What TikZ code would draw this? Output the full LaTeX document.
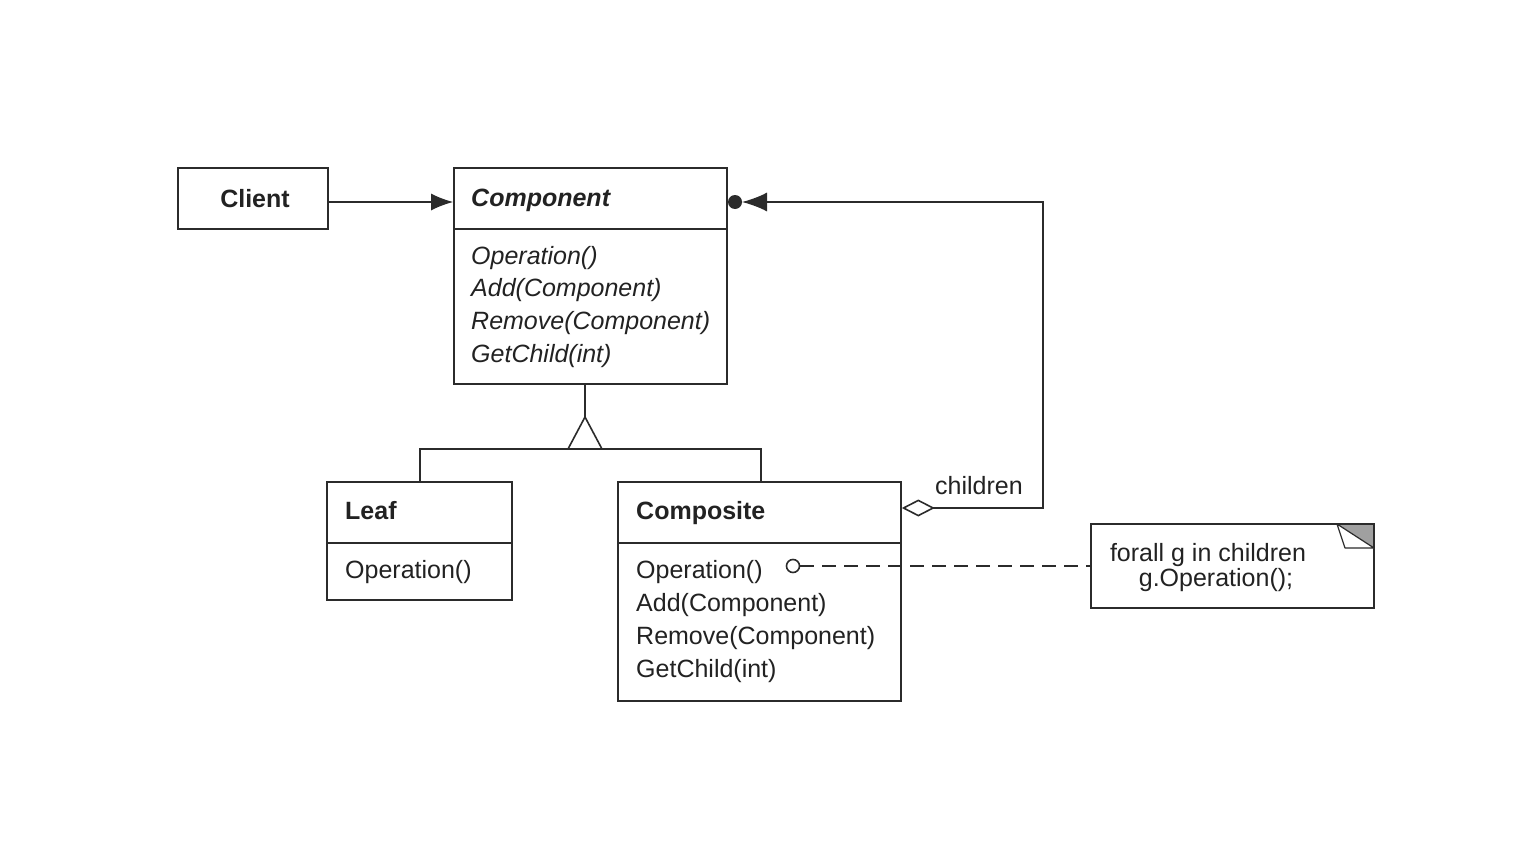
\documentclass[tikz,border=0pt]{standalone}
\usepackage{fontspec}
\setmainfont{Liberation Sans}
\usetikzlibrary{arrows.meta}
\definecolor{linec}{HTML}{2B2B2B}
\definecolor{textc}{HTML}{222222}
\definecolor{foldc}{HTML}{A0A0A0}
\begin{document}
\begin{tikzpicture}[x=1pt,y=-1pt,
  line/.style={draw=linec, line width=1.6pt},
  box/.style={draw=linec, line width=1.6pt, rectangle, inner sep=0pt, fill=white},
  txt/.style={font=\fontsize{25}{25}\selectfont, text=textc, inner sep=0pt, anchor=base west},
  ttl/.style={txt, font=\fontsize{25}{25}\selectfont\bfseries},
  ital/.style={txt, font=\fontsize{25}{25}\selectfont\itshape},
  ctr/.style={txt, anchor=base},
  dashline/.style={draw=linec, line width=1.6pt, dash pattern=on 14pt off 8pt}
]
\fill[white] (0,0) rectangle (1536,864);
\useasboundingbox (0,0) rectangle (1536,864);

% boxes
\node[box, minimum width=150pt, minimum height=61pt] (client) at (253,198.5) {};
\node[box, minimum width=273pt, minimum height=216pt] (comp) at (590.5,276) {};
\node[box, minimum width=185pt, minimum height=118pt] (leaf) at (419.5,541) {};
\node[box, minimum width=283pt, minimum height=219pt] (compo) at (759.5,591.5) {};
\node[box, minimum width=283pt, minimum height=84pt] (note) at (1232.5,566) {};

% dividers
\coordinate (d1) at (0,229);
\coordinate (d2) at (0,543);
\draw[line] (comp.west |- d1) -- (comp.east |- d1);
\draw[line] (leaf.west |- d2) -- (leaf.east |- d2);
\draw[line] (compo.west |- d2) -- (compo.east |- d2);

% texts
\node[ttl, anchor=center] (tclient) at (255,199) {Client};
\node[txt, font=\fontsize{25}{25}\selectfont\bfseries\itshape] (tcomp) at (471,206) {Component};
\node[ital] (m1) at (471,264) {Operation()};
\node[ital] (m2) at (471,296) {Add(Component)};
\node[ital] (m3) at (471,329) {Remove(Component)};
\node[ital] (m4) at (471,362) {GetChild(int)};
\node[ttl] (tleaf) at (345,519) {Leaf};
\node[txt] (l1) at (345,578) {Operation()};
\node[ttl] (tcompo) at (636,519) {Composite};
\node[txt] (c1) at (636,578) {Operation()};
\node[txt] (c2) at (636,611) {Add(Component)};
\node[txt] (c3) at (636,644) {Remove(Component)};
\node[txt] (c4) at (636,677) {GetChild(int)};
\node[ctr] (n1) at (1208,561) {forall g in children};
\node[ctr] (n2) at (1216,586) {g.Operation();};
\node[ctr] (lchildren) at (979,494) {children};

% note fold
\fill[foldc] (1337,524) -- (1374,524) -- (1374,548) -- cycle;
\draw[draw=linec, line width=1.2pt, fill=white, line join=round] (1337,524) -- (1345,548) -- (1374,548) -- cycle;
\draw[draw=linec, line width=1.6pt] (1337,524) -- (1374,524) -- (1374,548);

% client -> component
\coordinate (ay) at (0,202);
\draw[line, -{Latex[length=22pt,width=17pt]}] (client.east |- ay) -- (comp.west |- ay);

% inheritance
\coordinate (apex) at (585,417);
\coordinate (busL) at (420,449);
\coordinate (busR) at (761,449);
\draw[line] (comp.south -| apex) -- (apex);
\draw[line] (leaf.north -| busL) -- (busL) -- (busR) -- (compo.north -| busR);
\draw[line, fill=white, line join=miter] (apex) -- (602,449) -- (568,449) -- cycle;

% children aggregation
\coordinate (cy) at (0,508);
\coordinate (turn) at (1043,508);
\coordinate (ctip) at (742,202);
\draw[line, {Diamond[open,length=33pt,width=17pt,fill=white]}-{Latex[length=25pt,width=19pt]}]
  (compo.east |- cy) -- (turn) -- (turn |- ay) -- (ctip);
\coordinate (cdot) at (735,202);
\fill[linec] (cdot) circle (7pt);

% note link
\coordinate (opdot) at (793,566);
\draw[dashline] (800,566) -- (note.west |- opdot);
\draw[line, fill=white] (opdot) circle (6.5pt);
\end{tikzpicture}
\end{document}
